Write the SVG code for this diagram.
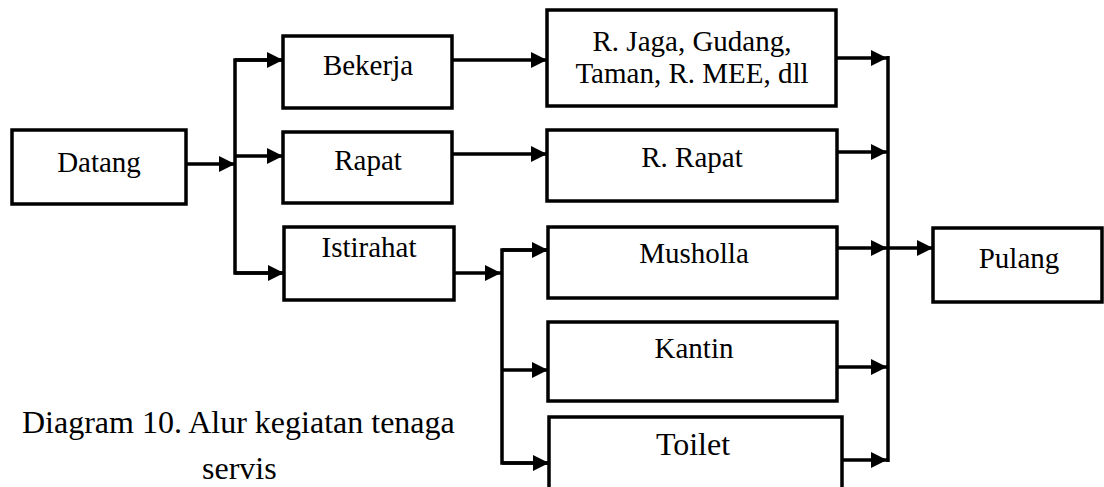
<svg xmlns="http://www.w3.org/2000/svg" width="1104" height="487" viewBox="0 0 1104 487">
<defs>
<style>
.box{fill:#fff;stroke:#000;stroke-width:3.5}
.lbl{font-family:"Liberation Serif","Times New Roman",serif;font-size:29px;fill:#000;text-anchor:middle}
.con{fill:none;stroke:#000;stroke-width:3.5}
.cap{font-family:"Liberation Serif","Times New Roman",serif;font-size:32px;fill:#000}
</style>
<marker id="ah" viewBox="0 0 16 16" refX="16" refY="8" markerWidth="16" markerHeight="16" markerUnits="userSpaceOnUse" orient="auto">
<path d="M0,0 L16,8 L0,16 Z" fill="#000"/>
</marker>
</defs>
<rect width="1104" height="487" fill="#fff"/>
<g id="connectors">
<path class="con" d="M186,164 H235" marker-end="url(#ah)"/>
<path class="con" d="M283,60 H235 V273 H284"/>
<path class="con" d="M235,60 H283" marker-end="url(#ah)"/>
<path class="con" d="M235,156 H283" marker-end="url(#ah)"/>
<path class="con" d="M235,273 H284" marker-end="url(#ah)"/>
<path class="con" d="M452,60 H547" marker-end="url(#ah)"/>
<path class="con" d="M452,154 H547" marker-end="url(#ah)"/>
<path class="con" d="M454,273 H501" marker-end="url(#ah)"/>
<path class="con" d="M548,250 H502 V463 H549"/>
<path class="con" d="M502,250 H548" marker-end="url(#ah)"/>
<path class="con" d="M502,370 H548" marker-end="url(#ah)"/>
<path class="con" d="M502,463 H549" marker-end="url(#ah)"/>
<path class="con" d="M836,58 H887" marker-end="url(#ah)"/>
<path class="con" d="M837,152 H887" marker-end="url(#ah)"/>
<path class="con" d="M837,248 H887" marker-end="url(#ah)"/>
<path class="con" d="M837,367 H887" marker-end="url(#ah)"/>
<path class="con" d="M842,460 H887" marker-end="url(#ah)"/>
<path class="con" d="M888,56 V462"/>
<path class="con" d="M888,248 H933" marker-end="url(#ah)"/>
</g>
<g id="datang"><rect class="box" x="12" y="130" width="174" height="74"/><text class="lbl" x="99" y="172">Datang</text></g>
<g id="bekerja"><rect class="box" x="283" y="36" width="169" height="72"/><text class="lbl" x="368" y="75">Bekerja</text></g>
<g id="rapat"><rect class="box" x="283" y="132" width="169" height="71"/><text class="lbl" x="368" y="170">Rapat</text></g>
<g id="istirahat"><rect class="box" x="284" y="227" width="170" height="73"/><text class="lbl" x="369" y="257">Istirahat</text></g>
<g id="rjaga"><rect class="box" x="547" y="10" width="289" height="96"/><text class="lbl" x="692" y="51">R. Jaga, Gudang,</text><text class="lbl" x="692" y="83">Taman, R. MEE, dll</text></g>
<g id="rrapat"><rect class="box" x="547" y="130" width="290" height="71"/><text class="lbl" x="692" y="167">R. Rapat</text></g>
<g id="musholla"><rect class="box" x="548" y="227" width="289" height="71"/><text class="lbl" x="694" y="263">Musholla</text></g>
<g id="kantin"><rect class="box" x="548" y="322" width="289" height="79"/><text class="lbl" x="694" y="358">Kantin</text></g>
<g id="toilet"><rect class="box" x="549" y="417" width="293" height="76"/><text class="lbl" x="693" y="455" style="font-size:32px">Toilet</text></g>
<g id="pulang"><rect class="box" x="933" y="228" width="169" height="74"/><text class="lbl" x="1019" y="268">Pulang</text></g>
<g id="caption">
<text class="cap" x="22" y="433">Diagram 10. Alur kegiatan tenaga</text>
<text class="cap" x="202" y="479">servis</text>
</g>
</svg>
